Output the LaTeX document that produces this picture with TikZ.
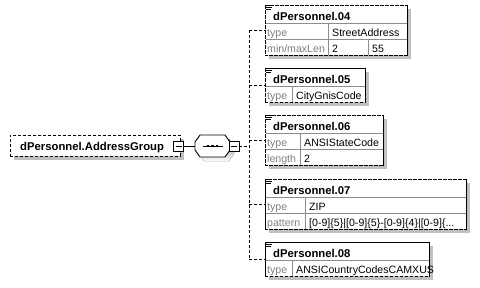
\documentclass[tikz,border=0pt]{standalone}
\usepackage{fontspec}
\setmainfont{Liberation Sans}
\usetikzlibrary{shadows,calc}
\definecolor{shade}{RGB}{192,192,192}
\definecolor{lbl}{RGB}{128,128,128}
\definecolor{gridc}{RGB}{140,140,140}
\begin{document}
\begin{tikzpicture}[x=1pt,y=-1pt,
  elbox/.style={draw, dash pattern=on 3pt off 2pt, line width=0.9pt, fill=white,
    inner sep=0pt, anchor=north west,
    drop shadow={shadow xshift=4pt, shadow yshift=-4pt, fill=shade, opacity=1}},
  title/.style={font=\bfseries\fontsize{11.3}{12}\selectfont, anchor=base west, inner sep=0pt},
  val/.style={font=\fontsize{10.6}{12}\selectfont, anchor=base west, inner sep=0pt},
  key/.style={val, text=lbl},
  gridline/.style={draw=gridc, line width=0.9pt},
  conn/.style={draw, dash pattern=on 3pt off 2pt, line width=0.9pt},
  solidconn/.style={draw, line width=0.9pt},
  minusbox/.style={draw, fill=white, minimum size=10pt, inner sep=0pt, line width=0.9pt,
    path picture={\draw[line width=1pt]
      ([xshift=2pt]path picture bounding box.west) --
      ([xshift=-2pt]path picture bounding box.east);}},
  icon/.style={line width=0.8pt},
]
\useasboundingbox (0,0) rectangle (480,287);

% ---- group element and its sequence compositor ----
\node[elbox, minimum width=170pt, minimum height=21pt] (root) at (10,135) {};
\node[title] (roottxt) at (20,150) {dPersonnel.AddressGroup};
\node[minusbox] (rootminus) at (178.5,146) {};

% sequence compositor: octagon with shadow
\node[minimum width=35pt, minimum height=22pt, inner sep=0pt] (seq) at (212.5,146) {};
\def\octagon{++(-17.5,-4) -- ++(5,-7) -- ++(25,0) -- ++(5,7) -- ++(0,8)
  -- ++(-5,7) -- ++(-25,0) -- ++(-5,-7) -- cycle}
\fill[shade] ($(seq.center)+(4,4)$) \octagon;
\draw[line width=0.9pt, fill=white] (seq.center) \octagon;
\draw[line width=0.9pt] ($(seq.center)+(-10,0)$) -- ($(seq.center)+(10,0)$);
\foreach \dx in {-4.5,0,4.5}
  \fill ($(seq.center)+(\dx-1.4,-1.4)$) rectangle ++(2.8,2.8);
\node[minusbox] (seqminus) at (234,146) {};

\draw[solidconn] (rootminus.east) -- (seq.west);

% ---- child elements ----
\node[elbox, minimum width=142pt, minimum height=50pt] (b04) at (265,5) {};
\node[elbox, minimum width=100pt, minimum height=34pt] (b05) at (265,68) {};
\node[elbox, minimum width=118pt, minimum height=50pt] (b06) at (265,115) {};
\node[elbox, minimum width=201pt, minimum height=50pt] (b07) at (265,179) {};
\node[elbox, minimum width=164pt, minimum height=34pt] (b08) at (265,242) {};

% table rules inside the boxes
\draw[gridline] (265.5,23) -- (406.5,23) (265.5,39) -- (406.5,39)
  (328,23) -- (328,54.5) (368,39) -- (368,54.5);
\draw[gridline] (265.5,86) -- (364.5,86) (292,86) -- (292,101.5);
\draw[gridline] (265.5,133) -- (382.5,133) (265.5,149) -- (382.5,149) (300,133) -- (300,164.5);
\draw[gridline] (265.5,197) -- (465.5,197) (265.5,213) -- (465.5,213) (305,197) -- (305,228.5);
\draw[gridline] (265.5,260) -- (428.5,260) (292,260) -- (292,275.5);

% redraw the dashed outlines over the rules
\foreach \b in {b04,b05,b06,b07,b08}
  \draw[dash pattern=on 3pt off 2pt, line width=0.9pt] (\b.north west) rectangle (\b.south east);

% documentation icons
\foreach \b in {b04,b05,b06,b07,b08} {
  \draw[icon] ($(\b.north west)+(1,0.5)$) -- ++(5.5,0);
  \draw[icon] ($(\b.north west)+(1,2.5)$) -- ++(5.5,0);
  \draw[icon] ($(\b.north west)+(1,4.5)$) -- ++(4.5,0);
}

% texts
\node[title] (t04) at (273,20) {dPersonnel.04};
\node[key] at (267,36) {type};
\node[val] at (332,36) {StreetAddress};
\node[key] at (267,52) {min/maxLen};
\node[val] at (332,52) {2};
\node[val] at (372,52) {55};

\node[title] (t05) at (273,83) {dPersonnel.05};
\node[key] at (267,99) {type};
\node[val] at (296,99) {CityGnisCode};

\node[title] (t06) at (273,130) {dPersonnel.06};
\node[key] at (267,146) {type};
\node[val] at (304,146) {ANSIStateCode};
\node[key] at (267,162) {length};
\node[val] at (304,162) {2};

\node[title] (t07) at (273,194) {dPersonnel.07};
\node[key] at (267,210) {type};
\node[val] at (309,210) {ZIP};
\node[key] at (267,226) {pattern};
\node[val] at (309,226) {[0-9]\{5\}|[0-9]\{5\}-[0-9]\{4\}|[0-9]\{...};

\node[title] (t08) at (273,257) {dPersonnel.08};
\node[key] at (267,273) {type};
\node[val] at (296,273) {ANSICountryCodesCAMXUS};

% connectors from the sequence to its children
\coordinate (bus) at (249,146);
\draw[conn] (seqminus.east) -- (bus);
\draw[conn] (b04.west -| bus) -- (b08.west -| bus);
\foreach \b in {b04,b05,b06,b07,b08}
  \draw[conn] (\b.west -| bus) -- (\b.west);
\end{tikzpicture}
\end{document}
